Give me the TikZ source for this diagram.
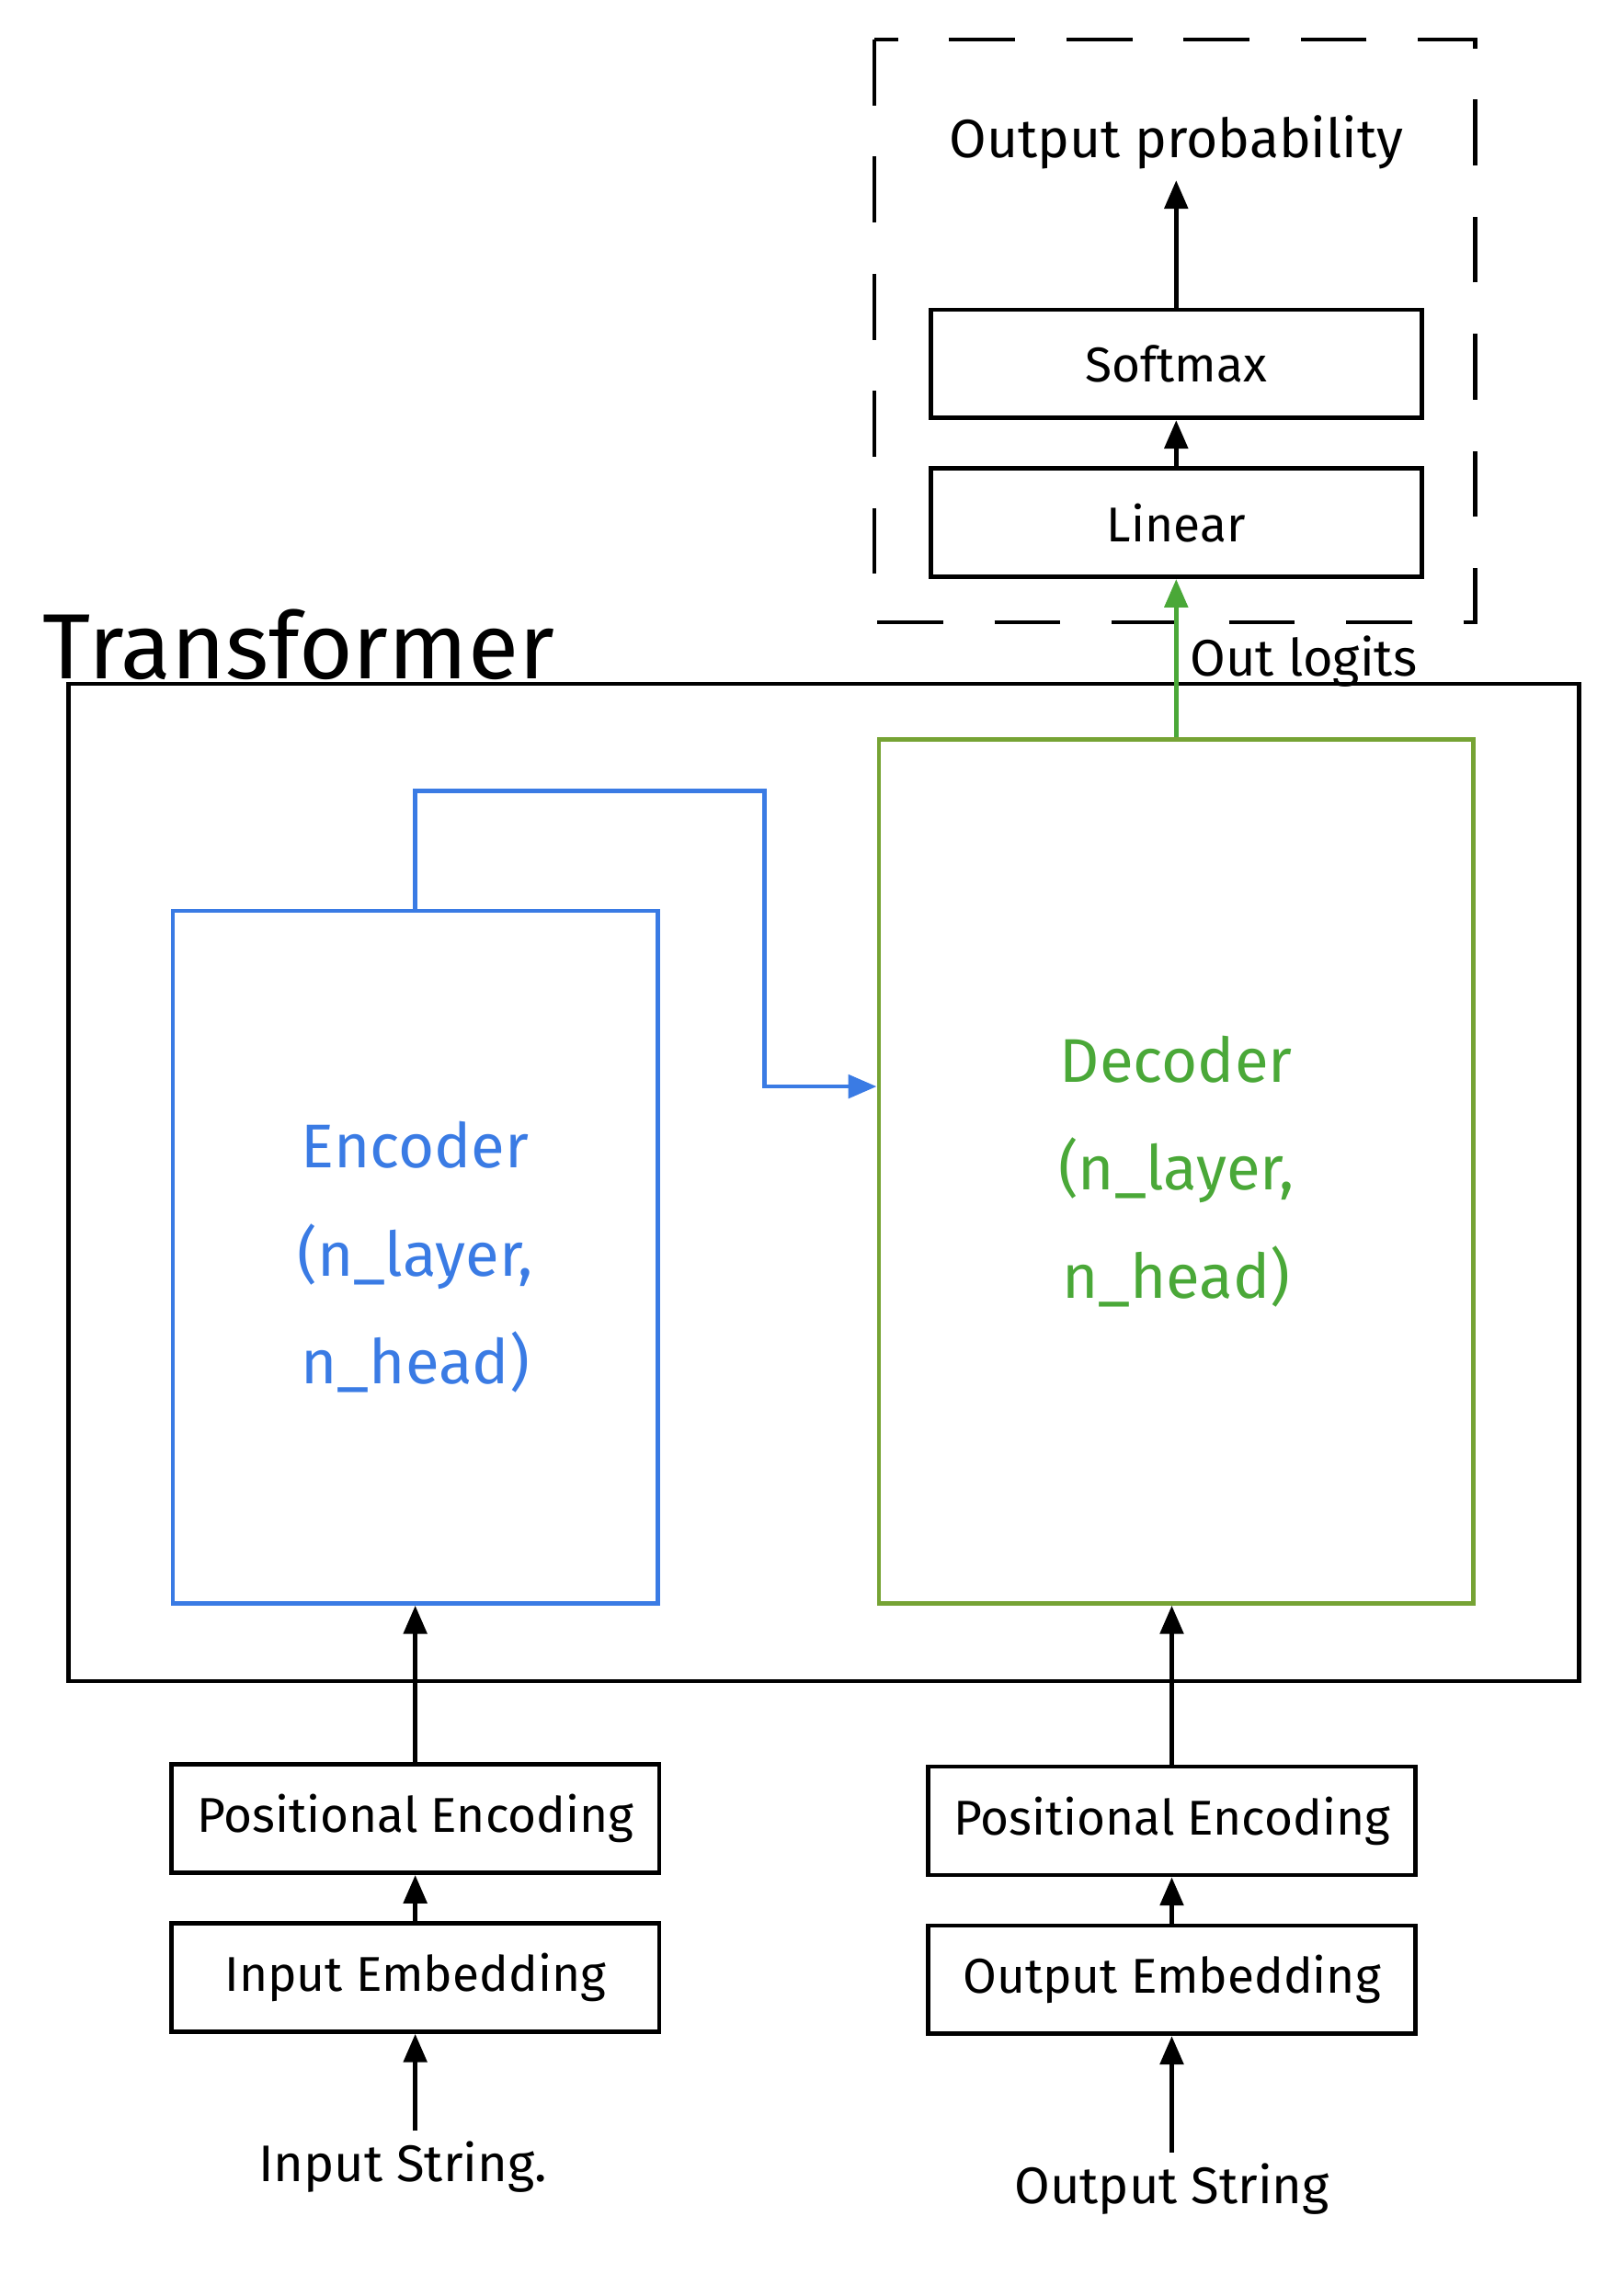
\documentclass[tikz,border=0pt]{standalone}
\usepackage{fontspec}
\setmainfont{Fira Sans}
\usetikzlibrary{arrows.meta}
\definecolor{encblue}{RGB}{58,123,228}
\definecolor{decline}{RGB}{118,163,52}
\definecolor{decgreen}{RGB}{74,168,56}
\tikzstyle{block}=[draw, line width=1.7pt, minimum width=6.66cm, minimum height=1.48cm,
font=\fontsize{19}{23}\selectfont]
\tikzstyle{stack}=[draw, line width=1.7pt, align=center,
font=\fontsize{24}{42}\selectfont]
\tikzstyle{label}=[font=\fontsize{20}{24}\selectfont]

\begin{document}
\begin{tikzpicture}[>={Triangle[length=11pt,width=9pt]}, line width=1.7pt]
\useasboundingbox (0,0) rectangle (22.12,-31.36);
% output head
\draw[dashed, dash pattern=on 0.9cm off 0.7cm] (11.94,-0.54) rectangle (20.14,-8.50);
\node[label, font=\fontsize{21}{25}\selectfont](prob) at (16.06,-1.95) {Output probability};
\node[block, minimum width=6.7cm](soft) at (16.06,-4.97) {Softmax};
\node[block, minimum width=6.7cm](lin) at (16.06,-7.14) {Linear};
% transformer
\node[font=\fontsize{36}{40}\selectfont](tflabel) at (4.08,-8.8) {Transformer};
\draw (0.94,-9.34) rectangle (21.56,-22.96);
\node[stack, draw=encblue, text=encblue, minimum width=6.62cm, minimum height=9.46cm](enc)
at (5.67,-17.17) {Encoder\\(n\_layer,\\n\_head)};
\node[stack, draw=decline, text=decgreen, minimum width=8.12cm, minimum height=11.8cm](dec)
at (16.06,-16.0) {Decoder\\(n\_layer,\\n\_head)};
\node[label](logits) at (17.8,-9.04) {Out logits};
\coordinate (bend) at (10.44,-10.8);
\coordinate (cross) at ([yshift=1.16cm]dec.west);
% inputs
\node[block](pe1) at (5.67,-24.84) {Positional Encoding};
\node[block](emb1) at (5.67,-27.01) {Input Embedding};
\node[label](str1) at (5.5,-29.6) {Input String.};
\node[block](pe2) at (16.0,-24.87) {Positional Encoding};
\node[block](emb2) at (16.0,-27.04) {Output Embedding};
\node[label](str2) at (16.0,-29.9) {Output String};
% connectors
\draw[->] (soft.north) -- (prob.south);
\draw[->] (lin.north) -- (soft.south);
\draw[->, decgreen] (dec.north) -- (lin.south);
\draw[->, encblue] (enc.north) |- (bend) |- (cross);
\draw[->] (pe1.north) -- (enc.south);
\draw[->] (emb1.north) -- (pe1.south);
\draw[->] (str1.north -| emb1.south) -- (emb1.south);
\draw[->] (pe2.north) -- (pe2.north |- dec.south);
\draw[->] (emb2.north) -- (pe2.south);
\draw[->] (str2.north) -- (emb2.south);
\end{tikzpicture}
\end{document}
